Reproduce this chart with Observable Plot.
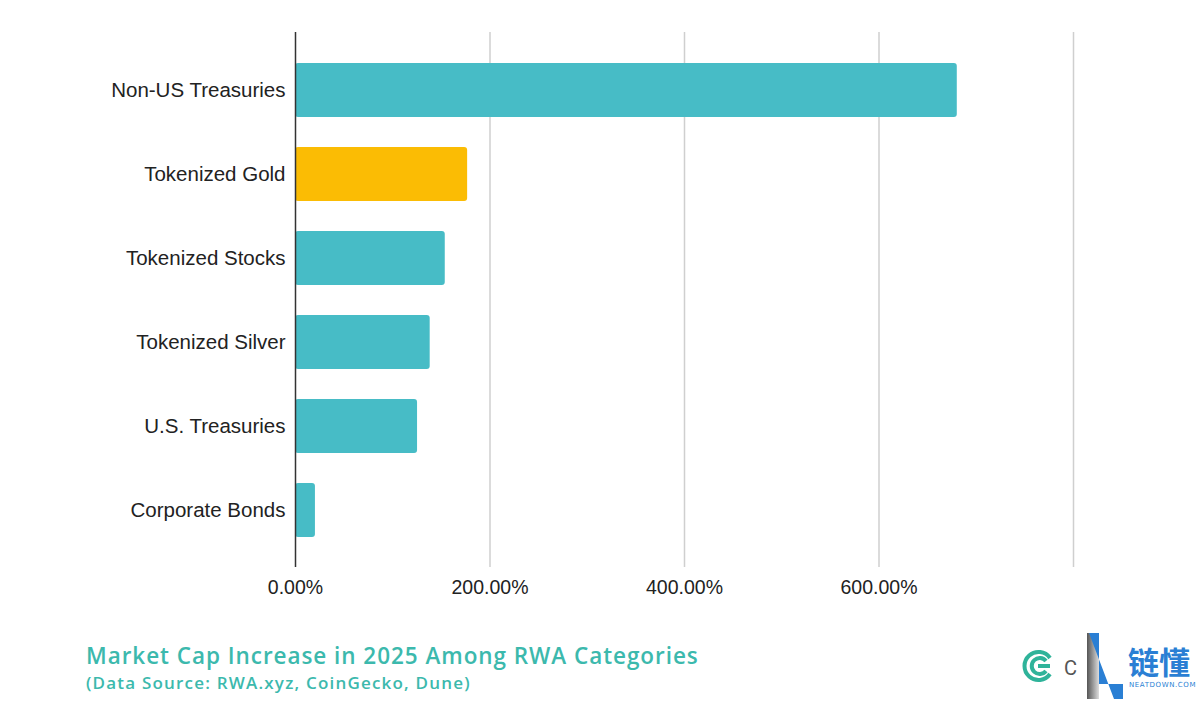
<!DOCTYPE html>
<html>
<head>
<meta charset="utf-8">
<script src="https://cdn.jsdelivr.net/npm/d3@7"></script>
<script src="https://cdn.jsdelivr.net/npm/@observablehq/plot@0.6"></script>
<style>
  html, body { margin: 0; padding: 0; background: #fff; }
  #wrap { position: relative; width: 1200px; height: 702px; overflow: hidden; background: #fff; }
  #title { position: absolute; left: 86px; top: 641px; font-family: "Open Sans", Inter, sans-serif; font-weight: 600; font-size: 22.5px; line-height: 30px; color: #3cb9ad; letter-spacing: 0.95px; white-space: nowrap; }
  #subtitle { position: absolute; left: 86px; top: 672px; font-family: "Open Sans", Inter, sans-serif; font-weight: 600; font-size: 17px; line-height: 22px; color: #3cb9ad; letter-spacing: 1.2px; white-space: nowrap; }
  #logo { position: absolute; left: 1020px; top: 628px; }
</style>
</head>
<body>
<div id="wrap">
  <div id="chart"></div>
  <div id="title">Market Cap Increase in 2025 Among RWA Categories</div>
  <div id="subtitle">(Data Source: RWA.xyz, CoinGecko, Dune)</div>
  <svg id="logo" width="180" height="74" viewBox="0 0 180 74">
    <g fill="none" stroke="#2fb39a" stroke-width="4">
      <path d="M30 30 A 14 14 0 1 0 30 46"/>
      <path d="M26 33 A 8 8 0 1 0 26 43"/>
    </g>
    <rect x="18" y="36" width="12" height="4" fill="#2fb39a"/>
    <text x="44" y="47" font-family="Roboto, sans-serif" font-size="20" fill="#555">C</text>
    <defs>
      <linearGradient id="g1" x1="0" x2="1" y1="0" y2="0">
        <stop offset="0" stop-color="#555"/>
        <stop offset="1" stop-color="#ddd"/>
      </linearGradient>
    </defs>
    <polygon points="67,5 79,5 79,71 67,71" fill="url(#g1)"/>
    <polygon points="69,5 79,5 79,56 103,56 103,71 94,71" fill="#2a7fd4"/>
    <text x="108" y="46" font-family="'Noto Sans CJK SC', sans-serif" font-weight="700" font-size="31" fill="#2a7fd4">链懂</text>
    <text x="109" y="59" font-family="'DejaVu Sans', sans-serif" font-size="7" fill="#2a7fd4" letter-spacing="0.6">NEATDOWN.COM</text>
  </svg>
</div>
<script>
const categories = ["Non-US Treasuries", "Tokenized Gold", "Tokenized Stocks", "Tokenized Silver", "U.S. Treasuries", "Corporate Bonds"];
const values = [680.5, 177, 154, 138.5, 125.5, 20.5];
const highlighted = "Tokenized Gold";
const xTicks = [0, 200, 400, 600];
const gridTicks = [200, 400, 600, 800];

const data = categories.map((c, i) => ({category: c, value: values[i]}));

const chart = Plot.plot({
  width: 1200,
  height: 620,
  marginLeft: 295,
  marginRight: 127,
  marginTop: 32,
  marginBottom: 53,
  style: {fontFamily: "'Liberation Sans', Arial, sans-serif", fontSize: "19.5px", color: "#222", background: "transparent"},
  x: {domain: [0, 800], ticks: xTicks, tickFormat: d => d.toFixed(2) + "%", tickSize: 0, tickPadding: 13, label: null},
  y: {domain: categories, paddingInner: 0.36, paddingOuter: 0.34, tickSize: 0, tickPadding: 10, label: null},
  marks: [
    Plot.ruleX(gridTicks, {stroke: "#cfcfcf", strokeWidth: 1.5}),
    Plot.barX(data, {
      y: "category",
      x: "value",
      fill: d => d.category === highlighted ? "#fbbc04" : "#47bcc6",
      rx: 3
    }),
    Plot.ruleX([0], {stroke: "#333", strokeWidth: 1.5})
  ]
});
d3.select(chart).selectAll('g[aria-label="y-axis tick label"]').attr("font-size", "20.5px");
document.getElementById("chart").appendChild(chart);
</script>
</body>
</html>
